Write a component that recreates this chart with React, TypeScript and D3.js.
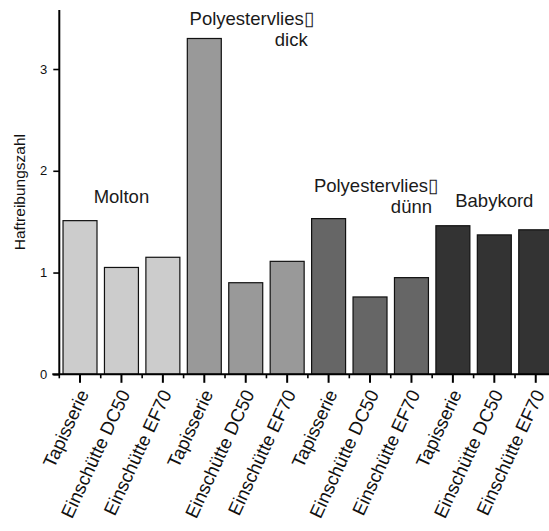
import { useEffect, useRef } from 'react';
import * as d3 from 'd3';

const CATEGORIES = [
  'Tapisserie', 'Einschütte DC50', 'Einschütte EF70',
  'Tapisserie', 'Einschütte DC50', 'Einschütte EF70',
  'Tapisserie', 'Einschütte DC50', 'Einschütte EF70',
  'Tapisserie', 'Einschütte DC50', 'Einschütte EF70',
];
const GROUP_OF = [0, 0, 0, 1, 1, 1, 2, 2, 2, 3, 3, 3];
const VALUES = [1.51, 1.05, 1.15, 3.30, 0.90, 1.11, 1.53, 0.76, 0.95, 1.46, 1.37, 1.42];
const GROUP_LINES = [['Molton'], ['Polyestervlies\u25AF', 'dick'], ['Polyestervlies\u25AF', 'dünn'], ['Babykord']];
const GROUP_FILLS = ['#cccccc', '#999999', '#666666', '#333333'];
const Y_TICKS = [0, 1, 2, 3];
const Y_LABEL = 'Haftreibungszahl';

const W = 549;
const H = 531;
const FONT = '"Liberation Sans", Arial, Helvetica, sans-serif';

// where each group label's first baseline sits, in y units
const LABEL_POS: { y: number; multi: boolean }[] = [
  { y: 1.68, multi: false },
  { y: 3.43, multi: true },
  { y: 1.79, multi: true },
  { y: 1.64, multi: false },
];

export default function App() {
  const svgRef = useRef<SVGSVGElement>(null);

  useEffect(() => {
    const svg = d3.select(svgRef.current);
    svg.selectAll('*').remove();

    const x0 = 59.3;
    const step = 41.43;
    const x = d3.scaleBand<number>().domain(d3.range(VALUES.length))
      .range([x0, x0 + step * VALUES.length]).paddingInner(0.18).paddingOuter(0.09);
    const y = d3.scaleLinear().domain([0, 3.58]).range([374.3, 10]);

    // Bars
    svg.append('g').selectAll('rect').data(VALUES).join('rect')
      .attr('x', (_, i) => x(i)!).attr('width', x.bandwidth())
      .attr('y', (d) => y(d)).attr('height', (d) => y(0) - y(d))
      .attr('fill', (_, i) => GROUP_FILLS[GROUP_OF[i]])
      .attr('stroke', '#111').attr('stroke-width', 1.2);

    // Y axis
    const ya = svg.append('g').attr('transform', `translate(${x0},0)`)
      .call(d3.axisLeft(y).tickValues(Y_TICKS).tickSize(6).tickPadding(6).tickFormat(d3.format('d')));
    ya.select('.domain').attr('d', `M0,${y.range()[1]}V${y(0)}`).attr('stroke', '#000').attr('stroke-width', 2);
    ya.selectAll('.tick line').attr('stroke', '#000').attr('stroke-width', 1.6);
    ya.selectAll('.tick text').attr('font-family', FONT).attr('font-size', 13).attr('fill', '#111');

    // X axis line + minor ticks at band edges
    const xa = svg.append('g');
    xa.append('line').attr('x1', x0 - 7).attr('x2', W + 10).attr('y1', y(0)).attr('y2', y(0))
      .attr('stroke', '#000').attr('stroke-width', 2);
    xa.selectAll('.minor').data(d3.range(VALUES.length + 1)).join('line')
      .attr('x1', (i) => x0 + i * step).attr('x2', (i) => x0 + i * step)
      .attr('y1', y(0)).attr('y2', y(0) + 4)
      .attr('stroke', '#000').attr('stroke-width', 1.6);
    xa.selectAll('.major').data(d3.range(VALUES.length)).join('line')
      .attr('x1', (i) => x(i)! + x.bandwidth() / 2).attr('x2', (i) => x(i)! + x.bandwidth() / 2)
      .attr('y1', y(0)).attr('y2', y(0) + 8.5)
      .attr('stroke', '#000').attr('stroke-width', 2);
    xa.selectAll('.xlab').data(CATEGORIES).join('text')
      .attr('transform', (_, i) => `translate(${x(i)! + x.bandwidth() / 2},${y(0) + 15}) rotate(-65)`)
      .attr('dy', '0.55em').attr('text-anchor', 'end')
      .attr('font-family', FONT).attr('font-size', 18.5).attr('fill', '#111')
      .text((d) => d);

    // Y label
    svg.append('text')
      .attr('transform', `translate(25,${(y(0) + y.range()[1]) / 2}) rotate(-90)`)
      .attr('text-anchor', 'middle').attr('font-family', FONT).attr('font-size', 15.5).attr('fill', '#111')
      .text(Y_LABEL);

    // Group annotations, centred on the middle bar of each group
    GROUP_LINES.forEach((lines, g) => {
      const mid = x(g * 3 + 1)! + x.bandwidth() / 2;
      const pos = LABEL_POS[g];
      const t = svg.append('text').attr('font-family', FONT).attr('font-size', 18.5).attr('fill', '#1a1a1a');
      if (!pos.multi) {
        t.attr('x', mid).attr('y', y(pos.y)).attr('text-anchor', 'middle').text(lines[0]);
      } else {
        t.attr('text-anchor', 'end');
        t.append('tspan').attr('x', mid + 68).attr('y', y(pos.y)).text(lines[0]);
        t.append('tspan').attr('x', mid + 62).attr('dy', 21).text(lines[1]);
      }
    });
  }, []);

  return (
    <svg ref={svgRef} width={W} height={H} viewBox={`0 0 ${W} ${H}`}
      style={{ position: 'absolute', left: 0, top: 0, background: '#fff' }} />
  );
}
